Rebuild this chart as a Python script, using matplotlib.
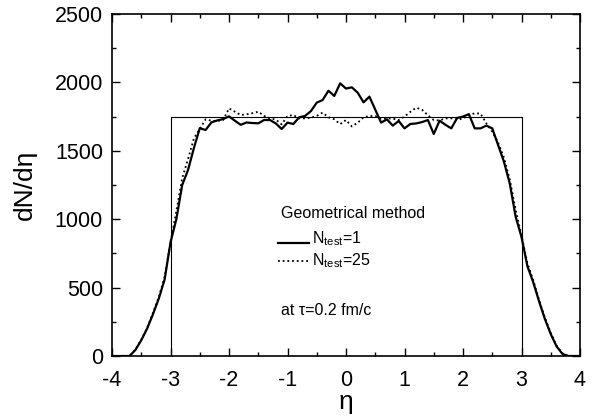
import matplotlib
matplotlib.use("Agg")
import matplotlib.pyplot as plt
from matplotlib.ticker import MultipleLocator
from matplotlib.lines import Line2D

plt.rcParams['font.family'] = ['Liberation Sans', 'DejaVu Sans']
plt.rcParams['mathtext.fontset'] = 'custom'
plt.rcParams['mathtext.rm'] = 'Liberation Sans'
plt.rcParams['mathtext.it'] = 'Liberation Sans:italic'

eta_solid = [-4.0, -3.8, -3.7, -3.6, -3.5, -3.4, -3.3, -3.2, -3.1, -3.0, -2.9, -2.8, -2.7, -2.6,
             -2.5, -2.4, -2.3, -2.2, -2.1, -2.0, -1.9, -1.8, -1.7, -1.6, -1.5, -1.4, -1.3, -1.2,
             -1.1, -1.0, -0.9, -0.8, -0.7, -0.6, -0.5, -0.4, -0.3, -0.2, -0.1, 0.0, 0.1, 0.2,
             0.3, 0.4, 0.6, 0.7, 0.8, 0.9, 1.0, 1.1, 1.2, 1.3, 1.4, 1.5, 1.6, 1.7, 1.8, 1.9,
             2.0, 2.1, 2.2, 2.3, 2.4, 2.5, 2.6, 2.7, 2.8, 2.9, 3.0, 3.1, 3.2, 3.3, 3.4, 3.5,
             3.6, 3.7, 3.8, 4.0]
dn_solid = [0, 0, 0, 44, 115, 200, 305, 420, 560, 830, 1000, 1250, 1360, 1520,
            1665, 1652, 1708, 1722, 1732, 1752, 1720, 1690, 1707, 1703, 1701, 1725, 1725, 1700,
            1659, 1706, 1696, 1745, 1755, 1790, 1852, 1871, 1939, 1901, 1993, 1955, 1964, 1925,
            1854, 1896, 1706, 1730, 1684, 1718, 1664, 1696, 1700, 1710, 1725, 1623, 1720, 1690, 1664, 1740,
            1750, 1768, 1664, 1664, 1684, 1664, 1542, 1420, 1260, 1018, 870, 658, 540, 400, 270, 160,
            70, 15, 0, 0]

eta_dot = [-4.0, -3.7, -3.6, -3.5, -3.4, -3.3, -3.2, -3.1, -3.0, -2.9, -2.8, -2.7, -2.6, -2.5,
           -2.4, -2.3, -2.2, -2.1, -2.0, -1.9, -1.8, -1.7, -1.6, -1.5, -1.4, -1.3, -1.2, -1.1,
           -1.0, -0.9, -0.8, -0.7, -0.6, -0.5, -0.4, -0.3, -0.2, -0.1, 0.0, 0.1, 0.2, 0.3,
           0.4, 0.5, 0.6, 0.7, 0.8, 0.9, 1.0, 1.1, 1.2, 1.3, 1.4, 1.5, 1.6, 1.7, 1.8, 1.9,
           2.0, 2.1, 2.2, 2.3, 2.4, 2.5, 2.6, 2.7, 2.8, 2.9, 3.0, 3.1, 3.2, 3.3, 3.4, 3.5,
           3.6, 3.7, 3.8, 4.0]
dn_dot = [0, 0, 48, 120, 205, 315, 430, 580, 830, 1060, 1300, 1440, 1590, 1660,
          1730, 1720, 1718, 1725, 1810, 1786, 1762, 1766, 1775, 1786, 1755, 1737, 1728, 1693,
          1754, 1762, 1737, 1737, 1742, 1755, 1779, 1745, 1730, 1695, 1725, 1678, 1705, 1745,
          1754, 1754, 1735, 1737, 1735, 1725, 1750, 1785, 1815, 1800, 1760, 1725, 1722, 1737, 1737, 1728,
          1735, 1762, 1774, 1772, 1700, 1640, 1560, 1450, 1290, 1070, 880, 680, 555, 410, 280, 170,
          75, 20, 0, 0]

step_eta = [-3, -3, 3, 3]
step_dn = [0, 1750, 1750, 0]

x_ticks = [-4, -3, -2, -1, 0, 1, 2, 3, 4]
y_ticks = [0, 500, 1000, 1500, 2000, 2500]

legend_title = 'Geometrical method'
legend_labels = [r'N$_{\mathrm{test}}$=1', r'N$_{\mathrm{test}}$=25']
note = 'at τ=0.2 fm/c'

fig = plt.figure(figsize=(5.94, 4.2), dpi=100)
ax = fig.add_axes([112/594, 64/420, 468/594, 342/420])

ax.plot(step_eta, step_dn, color='black', lw=0.8)
ax.plot(eta_solid, dn_solid, color='black', lw=1.6)
ax.plot(eta_dot, dn_dot, color='black', lw=1.3, linestyle=(0, (1, 1.6)))

ax.set_xlim(-4, 4)
ax.set_ylim(0, 2500)
ax.set_xticks(x_ticks)
ax.set_xticklabels([str(v) for v in x_ticks])
ax.set_yticks(y_ticks)
ax.set_yticklabels([str(v) for v in y_ticks])
ax.xaxis.set_minor_locator(MultipleLocator(0.5))
ax.yaxis.set_minor_locator(MultipleLocator(250))
ax.tick_params(which='both', direction='in', top=True, right=True, labelsize=15.5, width=1)
ax.tick_params(which='major', length=6)
ax.tick_params(which='minor', length=3)
ax.tick_params(axis='x', pad=10)
ax.tick_params(axis='y', pad=6.5)
for s in ax.spines.values():
    s.set_linewidth(1.2)

ax.set_xlabel('η', fontsize=19, labelpad=-1)
ax.set_ylabel('dN/dη', fontsize=19, labelpad=13)


def fx(px):
    return (px - 112) / 468


def fy(py):
    return (356 - py) / 342


fs = 11.5
ax.text(fx(281), fy(218), legend_title, transform=ax.transAxes, fontsize=fs,
        va='baseline', ha='left')
styles = [dict(lw=1.6, linestyle='-'), dict(lw=1.3, linestyle=(0, (1, 1.6)))]
rows_line = [243, 261]
rows_text = [243, 265]
for st, yl, yt, lab in zip(styles, rows_line, rows_text, legend_labels):
    ax.add_line(Line2D([fx(278), fx(309)], [fy(yl), fy(yl)], transform=ax.transAxes,
                       color='black', **st))
    ax.text(fx(312), fy(yt), lab, transform=ax.transAxes, fontsize=fs,
            va='baseline', ha='left')

ax.text(fx(281), fy(315), note, transform=ax.transAxes, fontsize=fs,
        va='baseline', ha='left')

fig.savefig('out.png', dpi=100)
